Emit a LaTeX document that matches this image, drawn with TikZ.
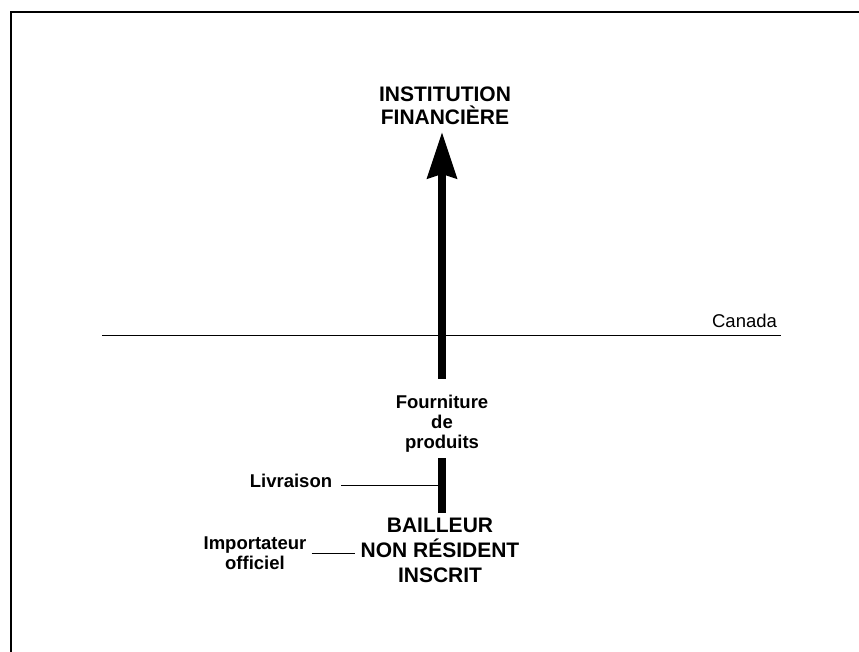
\documentclass[tikz,border=0pt]{standalone}
\usepackage{fontspec}
\setmainfont{Liberation Sans}
\usetikzlibrary{arrows.meta}
\begin{document}
\begin{tikzpicture}[x=1pt,y=-1pt,
  bigtxt/.style={font=\bfseries\fontsize{21}{23.5}\selectfont, align=center, inner sep=0pt},
  bigtxtb/.style={font=\bfseries\fontsize{21}{25}\selectfont, align=center, inner sep=5pt},
  smalltxt/.style={font=\bfseries\fontsize{18.5}{20}\selectfont, align=center, inner sep=0pt},
  plaintxt/.style={font=\fontsize{18.5}{20}\selectfont, inner sep=0pt},
  thinline/.style={line width=1pt},
  shaft/.style={line width=8pt},
  frameline/.style={line width=2pt}]
\useasboundingbox (0,0) rectangle (859,651);
% frame (top and left only)
\draw[frameline] (11,653) -- (11,11.5) -- (861,11.5);
% border line
\node[plaintxt, anchor=base] (canada) at (744.5,327) {Canada};
\coordinate (bL) at (102,335.5);
\coordinate (bR) at (781,335.5);
\draw[line width=1.2pt] (bL) -- (bR);
% nodes
\node[bigtxt, inner ysep=7pt, anchor=south] (inst) at (445,132) {INSTITUTION\\FINANCIÈRE};
\node[smalltxt] (four) at (442,423.3) {Fourniture\\de\\produits};
\node[bigtxtb, anchor=north] (bail) at (440,513) {BAILLEUR\\NON RÉSIDENT\\INSCRIT};
\node[smalltxt, inner xsep=9pt, anchor=base] (liv) at (291,487) {Livraison};
\node[smalltxt, inner xsep=5pt] (imp) at (255,553.4) {Importateur\\officiel};
% thin connectors
\path ([yshift=2pt]liv.base east) coordinate (livE);
\draw[thinline] (livE) -- (livE -| four.south);
\draw[thinline] (imp.east) -- (imp.east -| bail.west);
% thick arrow
\draw[shaft, shorten >=6pt] (four.south |- bail.north) -- (four.south);
\draw[shaft, shorten <=15.7pt, -{Stealth[length=46pt,width=29pt,inset=4pt]}] (four.north) -- (four.north |- inst.south);
\end{tikzpicture}
\end{document}
